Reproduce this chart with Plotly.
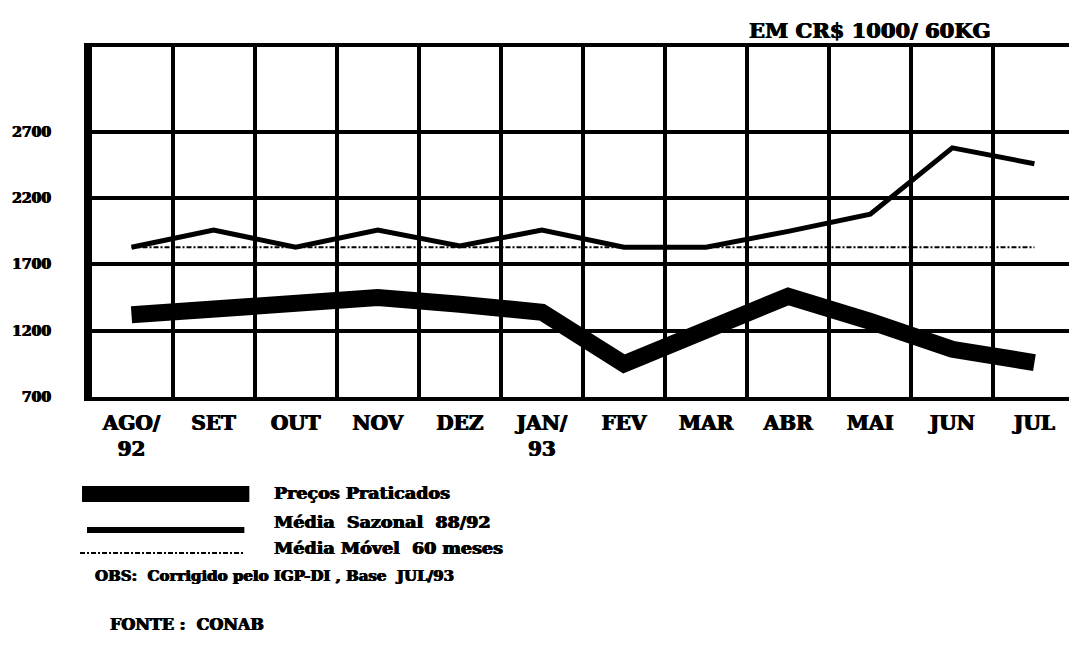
import plotly.graph_objects as go

# ---- data ----
months = ["AGO/<br>92", "SET", "OUT", "NOV", "DEZ", "JAN/<br>93", "FEV", "MAR", "ABR", "MAI", "JUN", "JUL"]
precos_praticados = [1320, 1365, 1410, 1450, 1400, 1340, 950, 1200, 1460, 1270, 1060, 960]
media_sazonal = [1830, 1960, 1830, 1960, 1840, 1960, 1830, 1830, 1950, 2080, 2580, 2460]
media_movel = [1830] * 12
y_ticks = [700, 1200, 1700, 2200, 2700]

FONT = "DejaVu Serif"
SHADOW = "0.6px 0 0 black, -0.6px 0 0 black"
OFF = 8  # page body margin
W, H = 1077 - OFF, 651 - OFF
L, T = 88 - OFF, 47 - OFF
R = 0
B = H - (397 - OFF)
PW, PH = W - L - R, H - T - B


def px(x):
    return (x - OFF - L) / PW


def py(y):
    return (H - B - (y - OFF)) / PH


xs = list(range(len(months)))

fig = go.Figure()
fig.add_trace(go.Scatter(x=xs, y=media_movel, mode="lines",
                         line=dict(color="black", width=2, dash="5px,2px,2px,2px"),
                         name="Média Móvel 60 meses", showlegend=False))
fig.add_trace(go.Scatter(x=xs, y=media_sazonal, mode="lines",
                         line=dict(color="black", width=5),
                         name="Média Sazonal 88/92", showlegend=False))
fig.add_trace(go.Scatter(x=xs, y=precos_praticados, mode="lines",
                         line=dict(color="black", width=17),
                         name="Preços Praticados", showlegend=False))

fig.update_layout(
    width=W, height=H,
    margin=dict(l=L, r=R, t=T, b=B, pad=0),
    paper_bgcolor="white", plot_bgcolor="white",
    font=dict(family=FONT, color="black", weight="bold"),
    xaxis=dict(
        range=[-0.53, 11.47], tickmode="array", tickvals=xs, ticktext=months,
        showgrid=False, zeroline=False, ticks="",
        tickfont=dict(family=FONT, size=20, weight="bold", shadow=SHADOW),
        ticklabelstandoff=5,
        showline=True, linecolor="black", linewidth=4, mirror=True,
        minor=dict(tick0=0.5, dtick=1, showgrid=True, gridcolor="black", gridwidth=4, ticks=""),
    ),
    yaxis=dict(
        range=[700, 3341], tickmode="array", tickvals=y_ticks,
        ticktext=[str(v) for v in y_ticks],
        showgrid=True, gridcolor="black", gridwidth=4, zeroline=False, ticks="",
        tickfont=dict(family=FONT, size=14, weight="bold", shadow=SHADOW),
        ticklabelstandoff=30,
        showline=True, linecolor="black", linewidth=4, mirror=True,
    ),
)

shapes = [
    dict(type="rect", xref="paper", yref="paper", x0=px(82), x1=px(250), y0=py(502), y1=py(486),
         fillcolor="black", line=dict(width=0)),
    dict(type="line", xref="paper", yref="paper", x0=px(87), x1=px(245), y0=py(530), y1=py(530),
         line=dict(color="black", width=6)),
    dict(type="line", xref="paper", yref="paper", x0=px(80), x1=px(245), y0=py(553), y1=py(553),
         line=dict(color="black", width=2, dash="5px,2px,2px,2px")),
]
fig.update_layout(shapes=shapes)

NB = "\u00a0"
texts = [
    ("EM CR$ 1000/ 60KG", 997, 30, "right", 21),
    ("Preços Praticados", 273, 493, "left", 17.5),
    (f"Média{NB} Sazonal{NB} 88/92", 273, 522, "left", 17.5),
    (f"Média Móvel{NB} 60 meses", 273, 548, "left", 17.5),
    (f"OBS:{NB} Corrigido pelo IGP-DI , Base{NB} JUL/93", 93, 576, "left", 15),
    (f"FONTE :{NB} CONAB", 108, 624, "left", 16),
]
for t, x, y, anc, size in texts:
    fig.add_annotation(text=t, xref="paper", yref="paper", x=px(x), y=py(y),
                       xanchor=anc, yanchor="middle", showarrow=False,
                       font=dict(family=FONT, size=size, color="black", weight="bold", shadow=SHADOW))

fig.write_html("out.html")
